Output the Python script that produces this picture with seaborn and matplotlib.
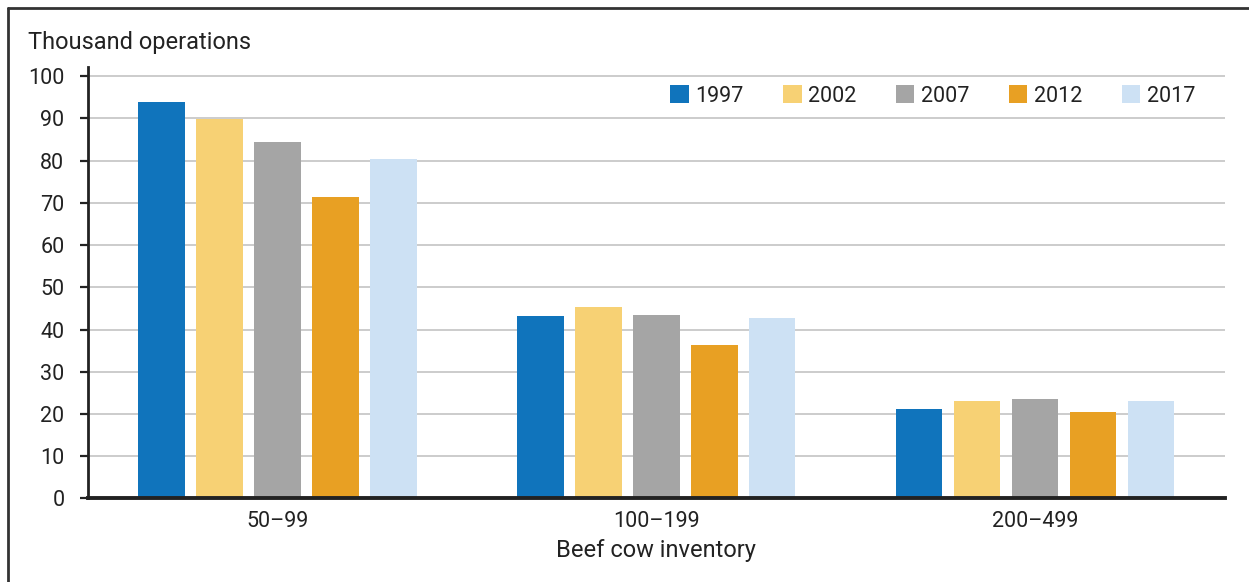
import numpy as np
import pandas as pd
import matplotlib.pyplot as plt
import seaborn as sns
from matplotlib.lines import Line2D

# -----------------------
# Data (thousand operations)
# -----------------------

sizes = ["50–99", "100–199", "200–499"]
years = ["1997", "2002", "2007", "2012", "2017"]

ops_1997 = [93.9, 43.2, 21.2]
ops_2002 = [89.9, 45.3, 23.0]
ops_2007 = [84.4, 43.5, 23.5]
ops_2012 = [71.3, 36.3, 20.4]
ops_2017 = [80.4, 42.7, 23.1]

colors = ["#1074BC", "#F7D174", "#A5A5A5", "#E8A023", "#CDE1F4"]

values = [ops_1997, ops_2002, ops_2007, ops_2012, ops_2017]
rows = []
for yr, vals in zip(years, values):
    for s, v in zip(sizes, vals):
        rows.append({"size": s, "year": yr, "ops": v})
df = pd.DataFrame(rows)

# -----------------------
# Plot
# -----------------------

sns.set_style("white")
plt.rcParams["font.family"] = ["Roboto", "DejaVu Sans"]
txt = "#222222"
fs = 15.5
fs_lab = 17

fig = plt.figure(figsize=(12.49, 5.82), dpi=100)
ax = fig.add_axes([0.0705, 0.1435, 0.91, 0.7415])

sns.barplot(data=df, x="size", y="ops", hue="year", order=sizes, hue_order=years,
            palette=colors, saturation=1, width=0.765, gap=0.2, linewidth=0,
            ax=ax)

ax.set_xlim(-0.5, 2.5)
ax.set_ylim(0, 102.2)
ax.set_yticks(np.arange(0, 101, 10))
ax.set_axisbelow(True)
ax.yaxis.grid(True, color="#CCCCCC", linewidth=1.4)
ax.xaxis.grid(False)

for side in ["top", "right"]:
    ax.spines[side].set_visible(False)
ax.spines["left"].set_color("#222222")
ax.spines["left"].set_linewidth(2)
ax.spines["bottom"].set_color("#222222")
ax.spines["bottom"].set_linewidth(2.8)

ax.tick_params(axis="y", direction="out", length=6, width=1.6, color="#222222",
               labelsize=fs, labelcolor=txt, pad=11, left=True)
ax.tick_params(axis="x", length=0, labelsize=fs, labelcolor=txt, pad=9)

ax.set_ylabel("")
ax.set_xlabel("Beef cow inventory", fontsize=fs_lab, color=txt, labelpad=5)

handles, labels = ax.get_legend_handles_labels()
ax.legend(handles, labels, loc="center right", ncol=5, frameon=False,
          bbox_to_anchor=(1195 / 1249, 1 - 96 / 582), bbox_transform=fig.transFigure,
          fontsize=fs, labelcolor=txt, handlelength=0.85, handleheight=0.85,
          handletextpad=0.3, columnspacing=1.85, borderpad=0, borderaxespad=0)

fig.text(28 / 1249, 1 - 49 / 582, "Thousand operations", fontsize=fs_lab, color=txt,
         ha="left", va="baseline")

# outer frame (top and left edges)
fig.add_artist(Line2D([7.5 / 1249, 7.5 / 1249], [0, 1 - 8 / 582],
                      transform=fig.transFigure, color="#333333", linewidth=2))
fig.add_artist(Line2D([7.5 / 1249, 1], [1 - 8 / 582, 1 - 8 / 582],
                      transform=fig.transFigure, color="#333333", linewidth=2))

fig.savefig("out.png", dpi=100)
